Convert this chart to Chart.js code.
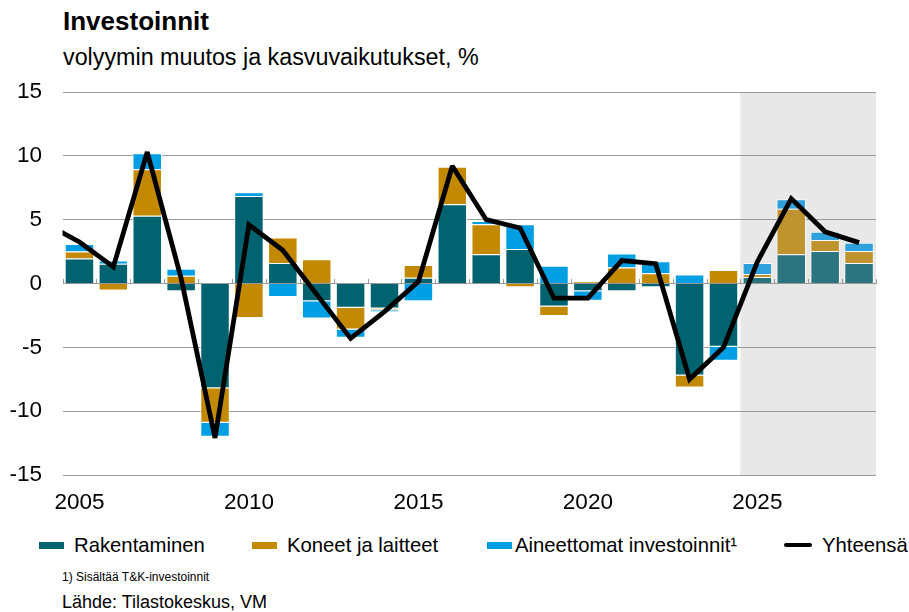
<!DOCTYPE html>
<html lang="fi">
<head>
<meta charset="utf-8">
<title>Investoinnit</title>
<script src="https://cdn.jsdelivr.net/npm/chart.js@4.4.1/dist/chart.umd.min.js"></script>
<style>
  html, body { margin: 0; padding: 0; background: #fff; }
  body { width: 909px; height: 612px; position: relative; overflow: hidden;
         font-family: "Liberation Sans", Arial, sans-serif; color: #000; }
  .txt { position: absolute; left: 63px; white-space: nowrap; }
  #title { top: 8px; font-size: 26px; line-height: 26px; font-weight: bold; }
  #subtitle { top: 46px; font-size: 23.3px; line-height: 23px; }
  #note { top: 571px; font-size: 12px; line-height: 12px; left: 62px; }
  #source { top: 593px; font-size: 18px; line-height: 18px; left: 62px; }
  #chartBox { position: absolute; left: 0; top: 58px; }
  .item { position: absolute; top: 533px; height: 24px; display: flex; align-items: center;
          font-size: 20.3px; line-height: 24px; white-space: nowrap; }
  .sw { display: inline-block; width: 25px; height: 7px; margin-right: 10px; }
</style>
</head>
<body>
<div id="title" class="txt">Investoinnit</div>
<div id="subtitle" class="txt">volyymin muutos ja kasvuvaikutukset, %</div>
<div id="chartBox"><canvas id="chart" width="909" height="457"></canvas></div>

<div class="item" style="left:39px"><span class="sw" style="background:#00636f"></span>Rakentaminen</div>
<div class="item" style="left:252px"><span class="sw" style="background:#c38900"></span>Koneet ja laitteet</div>
<div class="item" style="left:487px"><span class="sw" style="background:#009ee3;margin-right:3px"></span>Aineettomat investoinnit¹</div>
<div class="item" style="left:784px"><span class="sw" style="background:#000;width:28px;height:4px;border-radius:2px"></span>Yhteensä</div>

<div id="note" class="txt">1) Sisältää T&amp;K-investoinnit</div>
<div id="source" class="txt">Lähde: Tilastokeskus, VM</div>

<script>
// Years shown as bars
const years = [2005, 2006, 2007, 2008, 2009, 2010, 2011, 2012, 2013, 2014, 2015, 2016,
               2017, 2018, 2019, 2020, 2021, 2022, 2023, 2024, 2025, 2026, 2027, 2028];

// Growth contributions, %-points
const rakentaminen = [1.95, 1.55, 5.3, -0.6, -8.2, 6.85, 1.6, -1.4, -1.9, -1.95, 0.45, 6.2,
                      2.3, 2.7, -1.8, -0.6, -0.6, -0.3, -7.2, -4.95, 0.5, 2.3, 2.55, 1.6];
const koneet = [0.55, -0.55, 3.65, 0.6, -2.7, -2.7, 2.0, 1.9, -1.7, -0.15, 1.0, 2.95,
                2.35, -0.3, -0.75, 0.15, 1.25, 0.8, -0.95, 1.05, 0.25, 3.55, 0.85, 0.95];
const aineettomat = [0.6, 0.25, 1.25, 0.55, -1.1, 0.3, -1.05, -1.35, -0.65, -0.15, -1.4, 0,
                     0.25, 1.95, 1.4, -0.75, 1.1, 0.95, 0.7, -1.1, 0.85, 0.75, 0.65, 0.65];

// Total volume change, line starts one year before the first bar
const totalYears = [2004, 2005, 2006, 2007, 2008, 2009, 2010, 2011, 2012, 2013, 2014, 2015, 2016,
                    2017, 2018, 2019, 2020, 2021, 2022, 2023, 2024, 2025, 2026, 2027, 2028];
const yhteensa = [4.7, 3.25, 1.3, 10.3, 0.4, -12.1, 4.6, 2.6, -0.85, -4.3, -2.2, 0.15, 9.2,
                  5.0, 4.35, -1.15, -1.15, 1.8, 1.55, -7.5, -5.0, 1.7, 6.65, 4.05, 3.2];

const xTicks = [2005, 2010, 2015, 2020, 2025];
const yTicks = [-15, -10, -5, 0, 5, 10, 15];
const forecastFrom = 2025;

function barSet(label, values, dark, light) {
    const isForecast = ctx => ctx.raw && ctx.raw.x >= forecastFrom;
    return {
        type: 'bar',
        label: label,
        stack: 'bars',
        order: 1,
        data: years.map((x, i) => ({ x: x, y: values[i] })),
        backgroundColor: ctx => isForecast(ctx) ? light : dark,
        borderColor: ctx => isForecast(ctx) ? 'rgba(255,255,255,0.75)' : '#ffffff',
        borderWidth: 1,
        categoryPercentage: 1,
        barPercentage: 0.87
    };
}

// grey background for forecast years (drawn before the grid)
const forecastBand = {
    id: 'forecastBand',
    beforeDraw(chart) {
        const { ctx, chartArea: a, scales: { x } } = chart;
        const left = x.getPixelForValue(forecastFrom - 0.5);
        ctx.save();
        ctx.fillStyle = '#e8e8e8';
        ctx.fillRect(left, a.top, a.right - left, a.bottom - a.top);
        ctx.restore();
    }
};

// small tick marks on the zero line between years
const zeroTicks = {
    id: 'zeroTicks',
    beforeDatasetsDraw(chart) {
        const { ctx, scales: { x, y } } = chart;
        const y0 = Math.round(y.getPixelForValue(0));
        const edges = years.map(v => v - 0.5).concat([years[years.length - 1] + 0.5]);
        ctx.save();
        ctx.strokeStyle = '#999999';
        ctx.lineWidth = 1;
        ctx.beginPath();
        edges.forEach(v => {
            const px = Math.round(x.getPixelForValue(v)) + 0.5;
            ctx.moveTo(px, y0);
            ctx.lineTo(px, y0 - 5);
        });
        ctx.stroke();
        ctx.restore();
        ctx.miterLimit = 2;
    }
};

new Chart(document.getElementById('chart'), {
    type: 'bar',
    data: {
        datasets: [
            barSet('Rakentaminen', rakentaminen, '#00636f', '#2b7580'),
            barSet('Koneet ja laitteet', koneet, '#c38900', '#bf932e'),
            barSet('Aineettomat investoinnit¹', aineettomat, '#009ee3', '#2ea0dc'),
            {
                type: 'line',
                label: 'Yhteensä',
                stack: 'line',
                order: 0,
                data: totalYears.map((x, i) => ({ x: x, y: yhteensa[i] })),
                borderColor: '#000000',
                borderWidth: 4.8,
                borderJoinStyle: 'miter',
                pointRadius: 0,
                tension: 0
            }
        ]
    },
    options: {
        responsive: false,
        animation: false,
        devicePixelRatio: 1,
        layout: { padding: { top: 15, left: 0, right: 33, bottom: 0 } },
        scales: {
            x: {
                type: 'linear',
                min: 2004.5,
                max: 2028.5,
                offset: false,
                grid: { display: false, drawTicks: false, offset: false },
                border: { display: false },
                afterBuildTicks: s => { s.ticks = xTicks.map(v => ({ value: v })); },
                afterFit: s => { s.height = 40; },
                ticks: {
                    padding: 14.5,
                    color: '#000',
                    font: { family: '"Liberation Sans", Arial, sans-serif', size: 22.5 },
                    callback: v => String(v)
                }
            },
            y: {
                stacked: true,
                min: -15,
                max: 15,
                grid: { color: '#999999', lineWidth: 1, drawTicks: false },
                border: { display: false },
                afterBuildTicks: s => { s.ticks = yTicks.map(v => ({ value: v })); },
                afterFit: s => { s.width = 62.5; },
                ticks: {
                    padding: 20.5,
                    color: '#000',
                    font: { family: '"Liberation Sans", Arial, sans-serif', size: 22.5 }
                }
            }
        },
        plugins: {
            legend: { display: false },
            tooltip: { enabled: false }
        }
    },
    plugins: [forecastBand, zeroTicks]
});
</script>
</body>
</html>
